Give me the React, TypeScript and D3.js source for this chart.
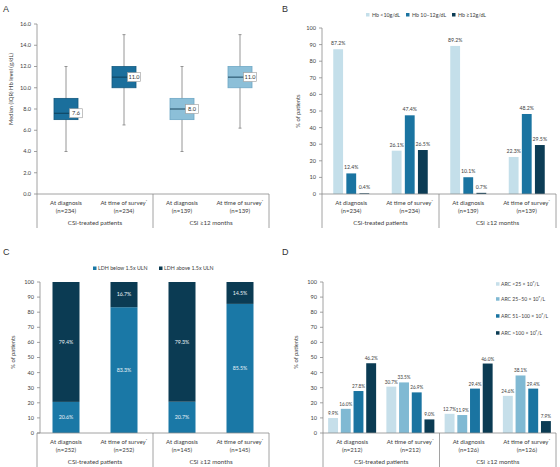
import React from "react";
import * as d3 from "d3";

// ---------- shared category structure ----------
const groupLabels = ["CSi-treated patients", "CSi ≥12 months"];
const timepointLabels = ["At diagnosis", "At time of survey", "At diagnosis", "At time of survey"];
const timepointStar = [false, true, false, true];
const categoryKeys = ["dx-all", "sv-all", "dx-12", "sv-12"];

// ---------- Panel A: Hb level box plots ----------
const hbN = ["(n=234)", "(n=234)", "(n=139)", "(n=139)"];
const hbMin = [4.0, 6.5, 4.0, 6.2];
const hbQ1 = [7.0, 10.0, 7.0, 10.0];
const hbMedian = [7.6, 11.0, 8.0, 11.0];
const hbQ3 = [9.0, 12.0, 9.0, 12.0];
const hbMax = [12.0, 15.0, 12.0, 15.0];
const hbTicks = [0, 2, 4, 6, 8, 10, 12, 14, 16];
const hbBoxFill = ["#1b6f9c", "#1b6f9c", "#8cbfd8", "#8cbfd8"];
const hbBoxStroke = ["#135a80", "#135a80", "#6ea8c6", "#6ea8c6"];

// ---------- Panel B: Hb categories ----------
const hbClassLabels = ["Hb <10g/dL", "Hb 10–12g/dL", "Hb ≥12g/dL"];
const hbClassLt10 = [87.2, 26.1, 89.2, 22.3];
const hbClass10to12 = [12.4, 47.4, 10.1, 48.2];
const hbClassGe12 = [0.4, 26.5, 0.7, 29.5];
const hbClassColors = ["#c4dfea", "#1a74a1", "#0c3c55"];

// ---------- Panel C: LDH ----------
const ldhN = ["(n=252)", "(n=252)", "(n=145)", "(n=145)"];
const ldhLabels = ["LDH below 1.5x ULN", "LDH above 1.5x ULN"];
const ldhBelow = [20.6, 83.3, 20.7, 85.5];
const ldhAbove = [79.4, 16.7, 79.3, 14.5];
const ldhColors = ["#1a78a6", "#0b3b53"];

// ---------- Panel D: ARC ----------
const arcN = ["(n=212)", "(n=212)", "(n=126)", "(n=126)"];
const arcLabels = ["ARC <25 × 10⁹/L", "ARC 25–50 × 10⁹/L", "ARC 51–100 × 10⁹/L", "ARC >100 × 10⁹/L"];
const arcLt25 = [9.9, 30.7, 12.7, 24.6];
const arc25to50 = [16.0, 33.5, 11.9, 38.1];
const arc51to100 = [27.8, 26.9, 29.4, 29.4];
const arcGt100 = [46.2, 9.0, 46.0, 7.9];
const arcColors = ["#c6dfea", "#80b9d3", "#1a74a1", "#0b3b53"];

const pctTicks = [0, 10, 20, 30, 40, 50, 60, 70, 80, 90, 100];

const FONT = "Lato, 'Open Sans', sans-serif";
const TXT = "#404040";
const AXIS = "#8a8a8a";

type YAxisProps = { x: number; y: d3.ScaleLinear<number, number>; ticks: number[]; fmt: (v: number) => string };
function YAxis({ x, y, ticks, fmt }: YAxisProps) {
  const [r0, r1] = y.range();
  return (
    <g>
      <line x1={x} x2={x} y1={r0} y2={r1} stroke={AXIS} strokeWidth={0.8} />
      {ticks.map((t) => (
        <g key={t}>
          <line x1={x - 3} x2={x} y1={y(t)} y2={y(t)} stroke={AXIS} strokeWidth={0.8} />
          <text x={x - 6} y={y(t)} dy="0.35em" textAnchor="end" fontSize={5.6} fill={TXT} fontFamily={FONT}>
            {fmt(t)}
          </text>
        </g>
      ))}
    </g>
  );
}

type XAxisProps = { x: d3.ScaleBand<string>; base: number; n: string[]; bottom: number };
function XAxis({ x, base, n, bottom }: XAxisProps) {
  const [x0, x1] = x.range();
  const mid = (x0 + x1) / 2;
  return (
    <g fontFamily={FONT} fill={TXT}>
      <line x1={x0} x2={x1} y1={base} y2={base} stroke={AXIS} strokeWidth={0.8} />
      {[x0, mid, x1].map((sx, i) => (
        <line key={i} x1={sx} x2={sx} y1={base} y2={bottom} stroke={AXIS} strokeWidth={0.8} />
      ))}
      {categoryKeys.map((k, i) => {
        const cx = (x(k) as number) + x.bandwidth() / 2;
        return (
          <g key={k}>
            <text x={cx} y={base + 11} textAnchor="middle" fontSize={6}>
              {timepointLabels[i]}
              {timepointStar[i] ? <tspan dy={-2} fontSize={4.5}>*</tspan> : null}
            </text>
            <text x={cx} y={base + 19} textAnchor="middle" fontSize={6}>
              {n[i]}
            </text>
          </g>
        );
      })}
      {groupLabels.map((g, i) => (
        <text key={g} x={i === 0 ? (x0 + mid) / 2 : (mid + x1) / 2} y={base + 31} textAnchor="middle" fontSize={6.2}>
          {g}
        </text>
      ))}
    </g>
  );
}

function YTitle({ x, y, text }: { x: number; y: number; text: string }) {
  return (
    <text transform={`translate(${x},${y}) rotate(-90)`} textAnchor="middle" fontSize={5.8} fill={TXT} fontFamily={FONT}>
      {text}
    </text>
  );
}

function PanelLetter({ x, y, t }: { x: number; y: number; t: string }) {
  return (
    <text x={x} y={y} fontSize={9} fill="#333" fontFamily="'Liberation Sans', Arial, sans-serif">
      {t}
    </text>
  );
}

function PanelA() {
  const y = d3.scaleLinear().domain([0, 16]).range([194, 24]);
  const x = d3.scaleBand<string>().domain(categoryKeys).range([37, 269]);
  const bw = 24;
  return (
    <g>
      <PanelLetter x={3} y={12} t="A" />
      <YTitle x={13} y={89} text="Median (IQR) Hb level (g/dL)" />
      <YAxis x={37} y={y} ticks={hbTicks} fmt={(v) => v.toFixed(1)} />
      {categoryKeys.map((k, i) => {
        const cx = (x(k) as number) + x.bandwidth() / 2;
        return (
          <g key={k}>
            <line x1={cx} x2={cx} y1={y(hbMax[i])} y2={y(hbMin[i])} stroke={AXIS} strokeWidth={0.9} />
            <line x1={cx - 1.5} x2={cx + 1.5} y1={y(hbMax[i])} y2={y(hbMax[i])} stroke={AXIS} strokeWidth={0.9} />
            <line x1={cx - 1.5} x2={cx + 1.5} y1={y(hbMin[i])} y2={y(hbMin[i])} stroke={AXIS} strokeWidth={0.9} />
            <rect
              x={cx - bw / 2}
              y={y(hbQ3[i])}
              width={bw}
              height={y(hbQ1[i]) - y(hbQ3[i])}
              fill={hbBoxFill[i]}
              stroke={hbBoxStroke[i]}
              strokeWidth={0.8}
            />
            <line x1={cx - bw / 2} x2={cx + bw / 2} y1={y(hbMedian[i])} y2={y(hbMedian[i])} stroke="#0d3a52" strokeWidth={0.9} />
            <rect x={cx + 3.5} y={y(hbMedian[i]) - 4.5} width={13} height={9} fill="#fff" stroke="#9a9a9a" strokeWidth={0.6} />
            <text x={cx + 10} y={y(hbMedian[i])} dy="0.35em" textAnchor="middle" fontSize={5.6} fill="#333" fontFamily={FONT}>
              {hbMedian[i].toFixed(1)}
            </text>
          </g>
        );
      })}
      <XAxis x={x} base={194} n={hbN} bottom={228} />
    </g>
  );
}

function PanelB() {
  const y = d3.scaleLinear().domain([0, 100]).range([194, 28]);
  const x = d3.scaleBand<string>().domain(categoryKeys).range([322, 556]);
  const series = [hbClassLt10, hbClass10to12, hbClassGe12];
  const inner = d3.scaleBand<number>().domain([0, 1, 2]).range([-18, 18]).paddingInner(0.25);
  const legendX = [366, 406, 452];
  return (
    <g>
      <PanelLetter x={282} y={12} t="B" />
      {hbClassLabels.map((l, i) => (
        <g key={l}>
          <rect x={legendX[i]} y={13} width={3.5} height={3.5} fill={hbClassColors[i]} />
          <text x={legendX[i] + 6} y={14.8} dy="0.35em" fontSize={5.3} fill={TXT} fontFamily={FONT}>
            {l}
          </text>
        </g>
      ))}
      <YTitle x={300} y={111} text="% of patients" />
      <YAxis x={322} y={y} ticks={pctTicks} fmt={(v) => String(v)} />
      {categoryKeys.map((k, ci) => {
        const cx = (x(k) as number) + x.bandwidth() / 2;
        return (
          <g key={k}>
            {series.map((s, si) => {
              const bx = cx + (inner(si) as number);
              return (
                <g key={si}>
                  <rect x={bx} y={y(s[ci])} width={inner.bandwidth()} height={y(0) - y(s[ci])} fill={hbClassColors[si]} />
                  <text
                    x={bx + inner.bandwidth() / 2}
                    y={y(s[ci]) - 4}
                    textAnchor="middle"
                    fontSize={5.2}
                    fill={TXT}
                    fontFamily={FONT}
                  >
                    {s[ci].toFixed(1)}%
                  </text>
                </g>
              );
            })}
          </g>
        );
      })}
      <XAxis x={x} base={194} n={hbN} bottom={228} />
    </g>
  );
}

function PanelC() {
  const y = d3.scaleLinear().domain([0, 100]).range([433, 282]);
  const x = d3.scaleBand<string>().domain(categoryKeys).range([37, 269]);
  const bw = 27;
  const legendX = [93, 159];
  return (
    <g>
      <PanelLetter x={3} y={255} t="C" />
      {ldhLabels.map((l, i) => (
        <g key={l}>
          <rect x={legendX[i]} y={266.5} width={3.5} height={3.5} fill={ldhColors[i]} />
          <text x={legendX[i] + 5} y={268.3} dy="0.35em" fontSize={5.3} fill={TXT} fontFamily={FONT}>
            {l}
          </text>
        </g>
      ))}
      <YTitle x={15} y={352} text="% of patients" />
      <YAxis x={40} y={y} ticks={pctTicks} fmt={(v) => String(v)} />
      {categoryKeys.map((k, i) => {
        const cx = (x(k) as number) + x.bandwidth() / 2;
        const top = ldhBelow[i] + ldhAbove[i];
        return (
          <g key={k} fontFamily={FONT}>
            <rect x={cx - bw / 2} y={y(ldhBelow[i])} width={bw} height={y(0) - y(ldhBelow[i])} fill={ldhColors[0]} />
            <rect x={cx - bw / 2} y={y(top)} width={bw} height={y(ldhBelow[i]) - y(top)} fill={ldhColors[1]} />
            <text x={cx} y={y(ldhBelow[i] / 2)} dy="0.35em" textAnchor="middle" fontSize={5.3} fill="#e8f2f7">
              {ldhBelow[i].toFixed(1)}%
            </text>
            <text x={cx} y={y(ldhBelow[i] + ldhAbove[i] / 2)} dy="0.35em" textAnchor="middle" fontSize={5.3} fill="#e8f2f7">
              {ldhAbove[i].toFixed(1)}%
            </text>
          </g>
        );
      })}
      <XAxis x={x} base={433} n={ldhN} bottom={467} />
    </g>
  );
}

function PanelD() {
  const y = d3.scaleLinear().domain([0, 100]).range([433, 282]);
  const x = d3.scaleBand<string>().domain(categoryKeys).range([323, 556]);
  const series = [arcLt25, arc25to50, arc51to100, arcGt100];
  const inner = d3.scaleBand<number>().domain([0, 1, 2, 3]).range([-24, 24]).paddingInner(0.22);
  const legendY = [284, 299, 316, 333];
  return (
    <g>
      <PanelLetter x={282} y={255} t="D" />
      {arcLabels.map((l, i) => (
        <g key={l}>
          <rect x={496} y={legendY[i] - 1.8} width={3.5} height={3.5} fill={arcColors[i]} />
          <text x={501} y={legendY[i]} dy="0.35em" fontSize={5.1} fill={TXT} fontFamily={FONT}>
            {l}
          </text>
        </g>
      ))}
      <YTitle x={298} y={352} text="% of patients" />
      <YAxis x={323} y={y} ticks={pctTicks} fmt={(v) => String(v)} />
      {categoryKeys.map((k, ci) => {
        const cx = (x(k) as number) + x.bandwidth() / 2;
        return (
          <g key={k}>
            {series.map((s, si) => {
              const bx = cx + (inner(si) as number);
              return (
                <g key={si}>
                  <rect x={bx} y={y(s[ci])} width={inner.bandwidth()} height={y(0) - y(s[ci])} fill={arcColors[si]} />
                  <text
                    x={bx + inner.bandwidth() / 2}
                    y={y(s[ci]) - 3}
                    textAnchor="middle"
                    fontSize={4.7}
                    fill={TXT}
                    fontFamily={FONT}
                  >
                    {s[ci].toFixed(1)}%
                  </text>
                </g>
              );
            })}
          </g>
        );
      })}
      <XAxis x={x} base={433} n={arcN} bottom={467} />
    </g>
  );
}

export default function App() {
  return (
    <div style={{ position: "fixed", left: 0, top: 0 }}>
      <svg width={560} height={467} style={{ display: "block", background: "#fff" }}>
        <PanelA />
        <PanelB />
        <PanelC />
        <PanelD />
      </svg>
    </div>
  );
}
